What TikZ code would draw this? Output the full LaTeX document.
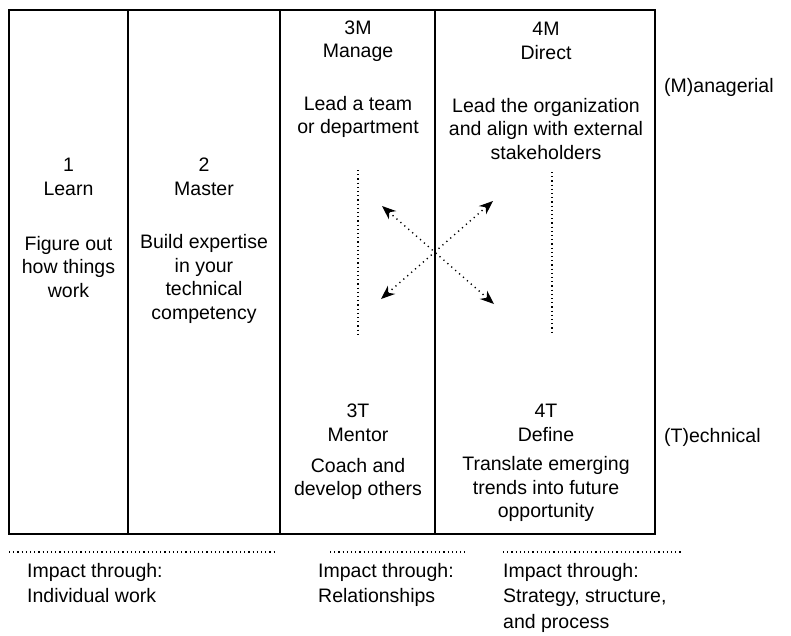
\documentclass[tikz,border=0pt]{standalone}
\usepackage{fontspec}
\setmainfont{Liberation Sans}
\usetikzlibrary{arrows.meta}
\tikzset{
  txt/.style={align=center, inner sep=0pt, font=\fontsize{19.5}{23.5}\selectfont},
  ltxt/.style={align=left, inner sep=0pt, anchor=north west, font=\fontsize{19.5}{25.5}\selectfont},
  frame/.style={line width=1.6pt},
  dots/.style={line width=1.4pt, dash pattern=on 1.2pt off 3pt},
  dotarrow/.style={line width=1.4pt, dash pattern=on 1.2pt off 4pt, {Stealth[length=14pt,width=11pt]}-{Stealth[length=14pt,width=11pt]}}
}
\begin{document}
\begin{tikzpicture}[x=1pt,y=-1pt]
\useasboundingbox (0,0) rectangle (791,635);
% frame
\draw[frame] (9,10) rectangle (655,534);
\draw[frame] (128,10) -- (128,534);
\draw[frame] (280,10) -- (280,534);
\draw[frame] (435,10) -- (435,534);
% column 1
\node[txt] (h1) at (68.5,177) {1\\Learn};
\node[txt] (b1) at (68.5,267) {Figure out\\how things\\work};
% column 2
\node[txt] (h2) at (204,177) {2\\Master};
\node[txt] (b2) at (204,279) {Build expertise\\in your\\technical\\competency};
% column 3
\node[txt] (h3m) at (358,41) {3M\\Manage};
\node[txt] (b3m) at (358,117) {Lead a team\\or department};
\node[txt] (h3t) at (358,423) {3T\\Mentor};
\node[txt] (b3t) at (358,479) {Coach and\\develop others};
% column 4
\node[txt] (h4m) at (546,41) {4M\\Direct};
\node[txt] (b4m) at (546,129) {Lead the organization\\and align with external\\stakeholders};
\node[txt] (h4t) at (546,423) {4T\\Define};
\node[txt] (b4t) at (546,489) {Translate emerging\\trends into future\\opportunity};
% side labels
\node[txt, anchor=west] (mgr) at (664,87) {(M)anagerial};
\node[txt, anchor=west] (tec) at (664,437) {(T)echnical};
% vertical dotted lines
\coordinate (v3a) at (358,170);
\coordinate (v3b) at (358,334);
\coordinate (v4a) at (552,172);
\coordinate (v4b) at (552,334);
\draw[dots] (v3a) -- (v3b);
\draw[dots] (v4a) -- (v4b);
% crossing arrows
\coordinate (ul) at (382,206);
\coordinate (lr) at (494,304);
\coordinate (ll) at (381,299);
\coordinate (ur) at (493,201);
\draw[dotarrow] (ul) -- (lr);
\draw[dotarrow] (ll) -- (ur);
% bottom dotted lines
\coordinate (d1a) at (9,552);
\coordinate (d1b) at (275,552);
\coordinate (d2a) at (330,552);
\coordinate (d2b) at (465,552);
\coordinate (d3a) at (503,552);
\coordinate (d3b) at (681,552);
\draw[dots] (d1a) -- (d1b);
\draw[dots] (d2a) -- (d2b);
\draw[dots] (d3a) -- (d3b);
% bottom texts
\node[ltxt] (i1) at (27,563) {Impact through:\\Individual work};
\node[ltxt] (i2) at (318,563) {Impact through:\\Relationships};
\node[ltxt] (i3) at (503,563) {Impact through:\\Strategy, structure,\\and process};
\end{tikzpicture}
\end{document}
